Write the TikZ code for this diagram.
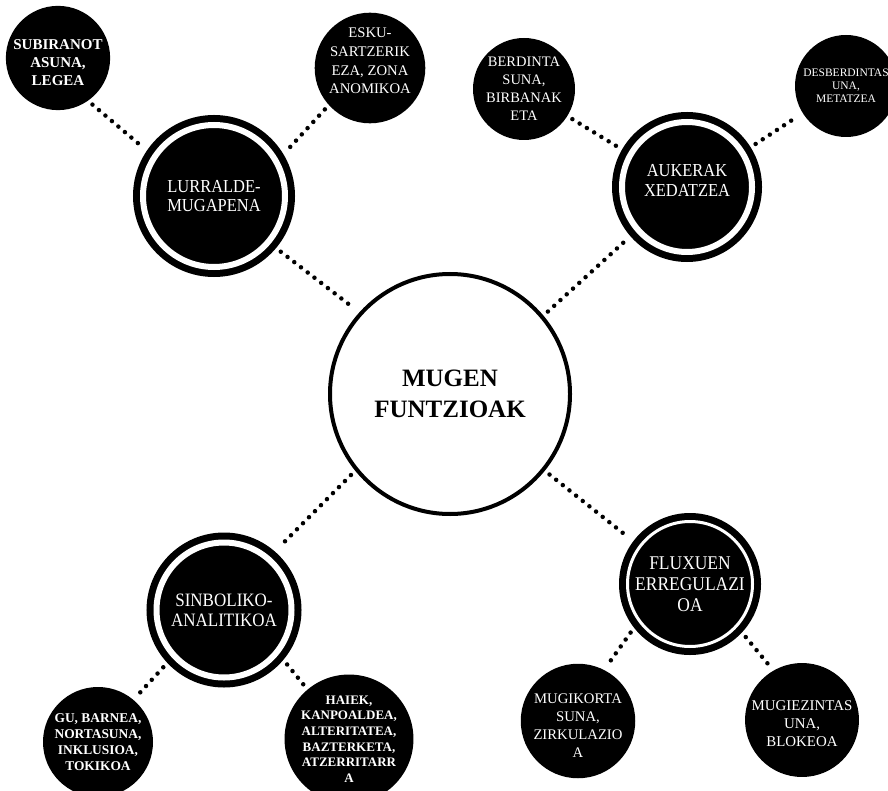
\documentclass[tikz,border=0pt]{standalone}
\usepackage{fontspec}
\setmainfont{Liberation Serif}
\newfontfamily\tallserif[FakeStretch=0.9]{Liberation Serif}
\usetikzlibrary{positioning}

% testua zirkuluaren barruan gora edo behera
\newcommand\shiftlbl[2]{\raisebox{#1}[\height][\depth]{\begin{tabular}{@{}c@{}}#2\end{tabular}}}

\tikzset{
  dots/.style={line width=4.5pt, line cap=round, dash pattern=on 0pt off 8.5pt,
               shorten <=6pt, shorten >=6pt},
  func/.style={circle, fill=black, draw=black, double=white, double distance=6pt,
               line width=7pt, inner sep=0pt, outer sep=10pt, text=white, align=center},
  leaf/.style={circle, fill=black, inner sep=0pt, outer sep=0pt, text=white, align=center},
}

\begin{document}
\begin{tikzpicture}[x=1pt, y=-1pt]
\useasboundingbox (0,0) rectangle (888,791);

% erdiko zirkulua
\node[circle, draw, line width=4pt, minimum size=240pt, inner sep=0pt, align=center,
      font=\bfseries\fontsize{25}{31}\selectfont] (mf) at (450,394) {MUGEN\\FUNTZIOAK};

% lau funtzioak
\node[func, minimum size=142pt, font=\tallserif\fontsize{18.3}{19.5}\selectfont] (lur) at (214,196) {LURRALDE-\\MUGAPENA};
\node[func, minimum size=130pt, font=\tallserif\fontsize{18.3}{20}\selectfont] (auk) at (687,187) {\shiftlbl{4pt}{AUKERAK\\XEDATZEA}};
\node[func, minimum size=135pt, font=\tallserif\fontsize{18.9}{20}\selectfont] (sinb) at (224,610) {SINBOLIKO-\\ANALITIKOA};
\node[func, double distance=3pt, outer sep=8.5pt, minimum size=125pt,
      font=\tallserif\fontsize{19.4}{21}\selectfont] (flux) at (690,584) {FLUXUEN\\ERREGULAZI\\OA};

% hostoak
\node[leaf, minimum size=100pt, font=\bfseries\fontsize{15}{18}\selectfont] (sub) at (58,58) {\shiftlbl{-6pt}{SUBIRANOT\\ASUNA,\\LEGEA}};
\node[leaf, minimum size=100pt, font=\fontsize{14.7}{18.7}\selectfont] (esku) at (370,68) {\shiftlbl{6pt}{ESKU-\\SARTZERIK\\EZA, ZONA\\ANOMIKOA}};
\node[leaf, minimum size=102pt, font=\fontsize{14.5}{18}\selectfont] (berd) at (524,89) {BERDINTA\\SUNA,\\BIRBANAK\\ETA};
\node[leaf, minimum size=102pt, font=\fontsize{11.5}{13}\selectfont] (desb) at (846,86) {DESBERDINTAS\\UNA,\\METATZEA};
\node[leaf, minimum size=110pt, font=\bfseries\fontsize{13.4}{16}\selectfont] (gu) at (98,742) {GU, BARNEA,\\NORTASUNA,\\INKLUSIOA,\\TOKIKOA};
\node[leaf, minimum size=108pt, font=\bfseries\fontsize{13}{15.7}\selectfont] (haiek) at (349,739) {HAIEK,\\KANPOALDEA,\\ALTERITATEA,\\BAZTERKETA,\\ATZERRITARR\\A};
\node[leaf, minimum size=108pt, font=\fontsize{14.7}{18}\selectfont] (mugik) at (578,721) {\shiftlbl{-6pt}{MUGIKORTA\\SUNA,\\ZIRKULAZIO\\A}};
\node[leaf, minimum size=108pt, font=\fontsize{14.9}{18}\selectfont] (mugiez) at (802,720) {\shiftlbl{-5pt}{MUGIEZINTAS\\UNA,\\BLOKEOA}};

% lotura puntudunak
\draw[dots] (sub.-55) -- (lur.146);
\draw[dots] (esku.222) -- (lur.31);
\draw[dots] (lur.-40) -- (mf.138);
\draw[dots] (berd.-32) -- (auk.150);
\draw[dots] (auk.32) -- (desb.212);
\draw[dots] (mf.40) -- (auk.221);
\draw[dots] (mf.219) -- (sinb.49);
\draw[dots] (mf.-39) -- (flux.143);
\draw[dots] (sinb.223) -- (gu.50);
\draw[dots] (sinb.-40) -- (haiek.130);
\draw[dots] (flux.218) -- (mugik.63);
\draw[dots] (flux.-43) -- (mugiez.120);

\end{tikzpicture}
\end{document}
